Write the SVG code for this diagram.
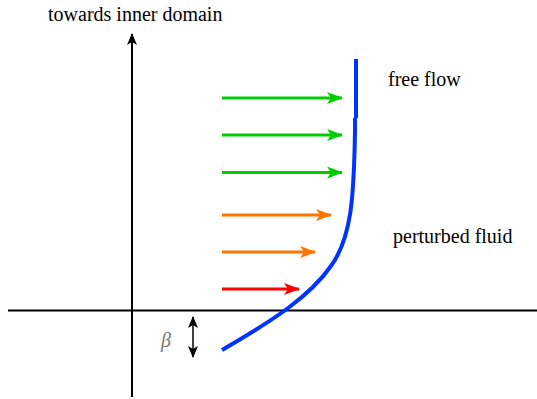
<svg xmlns="http://www.w3.org/2000/svg" width="537" height="399" viewBox="0 0 537 399">
<style>
.t{font-family:"Liberation Serif","DejaVu Serif","Times New Roman",serif;font-size:20px;fill:#000}
.ax{stroke:#000;stroke-width:2;fill:none}
.g{stroke:#00cc00;stroke-width:3;fill:none}
.o{stroke:#ff7300;stroke-width:3;fill:none}
.r{stroke:#ff0000;stroke-width:3;fill:none}
</style>
<defs>
<marker id="hk" viewBox="0 0 12 10" refX="11" refY="5" markerWidth="12" markerHeight="10" markerUnits="userSpaceOnUse" orient="auto-start-reverse"><path d="M0,0 L12,5 L0,10 L3,5 Z" fill="#000"/></marker>
<marker id="hg" viewBox="0 0 16 12" refX="15" refY="6" markerWidth="16" markerHeight="12" markerUnits="userSpaceOnUse" orient="auto"><path d="M0,0 L16,6 L0,12 L4,6 Z" fill="#00cc00"/></marker>
<marker id="ho" viewBox="0 0 16 12" refX="15" refY="6" markerWidth="16" markerHeight="12" markerUnits="userSpaceOnUse" orient="auto"><path d="M0,0 L16,6 L0,12 L4,6 Z" fill="#ff7300"/></marker>
<marker id="hr" viewBox="0 0 16 12" refX="15" refY="6" markerWidth="16" markerHeight="12" markerUnits="userSpaceOnUse" orient="auto"><path d="M0,0 L16,6 L0,12 L4,6 Z" fill="#ff0000"/></marker>
</defs>
<g id="axes">
<line class="ax" x1="132" y1="397" x2="132" y2="34" marker-end="url(#hk)"/>
<line class="ax" x1="8" y1="310.5" x2="537" y2="310.5"/>
</g>
<g id="connectors">
<line class="g" x1="222" y1="98" x2="342" y2="98" marker-end="url(#hg)"/>
<line class="g" x1="222" y1="135" x2="342" y2="135" marker-end="url(#hg)"/>
<line class="g" x1="222" y1="172.5" x2="342" y2="172.5" marker-end="url(#hg)"/>
<line class="o" x1="222" y1="215" x2="331" y2="215" marker-end="url(#ho)"/>
<line class="o" x1="222" y1="252" x2="315" y2="252" marker-end="url(#ho)"/>
<line class="r" x1="222" y1="289" x2="299" y2="289" marker-end="url(#hr)"/>
<line stroke="#000" stroke-width="1.5" x1="193" y1="317" x2="193" y2="357" marker-start="url(#hk)" marker-end="url(#hk)"/>
</g>
<g id="profile">
<path d="M222,350 C274,320 310,296 331,266 C351,238 354,200 355,130 L355,118 M356,118 L356,59" fill="none" stroke="#0033ff" stroke-width="4"/>
</g>
<g id="labels">
<text class="t" x="48" y="21">towards inner domain</text>
<text class="t" x="388" y="86">free flow</text>
<text class="t" x="393" y="243">perturbed fluid</text>
<text class="t" x="161" y="347" style="font-style:italic;fill:#777">β</text>
</g>
</svg>
